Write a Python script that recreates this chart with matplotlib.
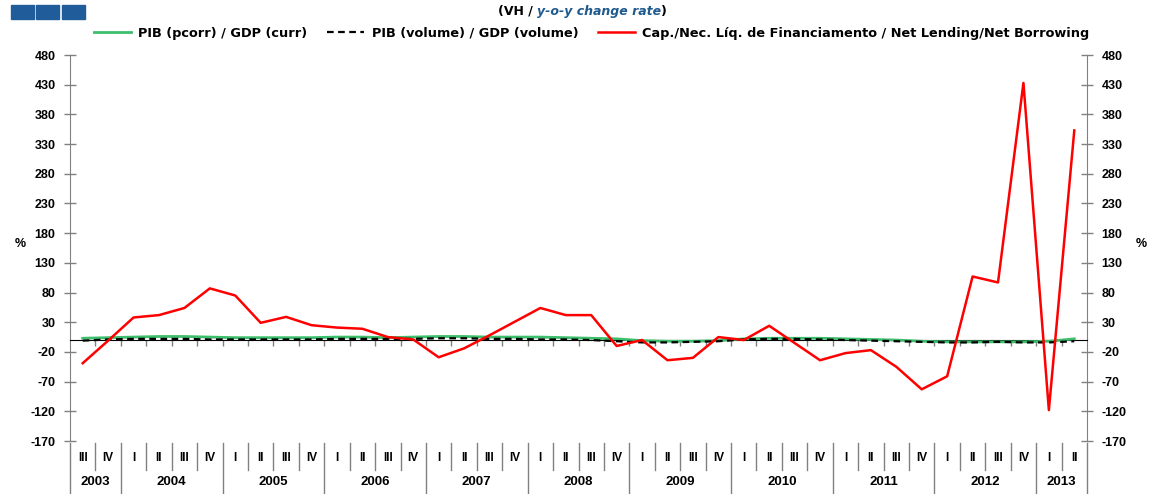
import numpy as np
import matplotlib
matplotlib.use('Agg')
import matplotlib.pyplot as plt
from matplotlib.lines import Line2D
from matplotlib.patches import Rectangle
import matplotlib.transforms as mtransforms

plt.rcParams['font.family'] = ['Liberation Sans', 'DejaVu Sans']
plt.rcParams['font.weight'] = 'bold'

# data
years = ['2003', '2004', '2005', '2006', '2007', '2008', '2009', '2010', '2011', '2012', '2013']
quarters_per_year = [2, 4, 4, 4, 4, 4, 4, 4, 4, 4, 2]
quarter_labels = ['III', 'IV'] + ['I', 'II', 'III', 'IV'] * 9 + ['I', 'II']

gdp_curr = [3, 4, 5, 6, 6, 5, 4, 4, 4, 4, 5, 5, 4, 5, 6, 6, 5, 5, 5, 4, 3, 2,
            -1, -2, -2, -1, 2, 3, 3, 3, 2, 1, 0, -2, -3, -3, -3, -3, -2, 2]
gdp_vol = [-1, 1, 2, 2, 2, 1, 1, 1, 1, 1, 2, 2, 2, 2, 3, 3, 2, 2, 1, 1, 0, -2,
           -4, -4, -3, -2, 1, 2, 2, 1, 0, -1, -2, -3, -4, -4, -3, -4, -4, -2]
net_lending = [-39, -1, 38, 42, 54, 87, 75, 29, 39, 25, 21, 19, 5, 1,
               -29, -14, 8, 31, 54, 42, 42, -10, 0, -34, -30, 5, 0, 24,
               -5, -34, -22, -17, -45, -83, -61, 107, 97, 433, -118, 353]

x = np.arange(len(net_lending))

fig = plt.figure(figsize=(11.51, 4.94), dpi=100)
ax = fig.add_axes([70 / 1151, 1 - 441 / 494, 1017 / 1151, 386 / 494])

green = '#3DBE6C'
ax.plot(x, gdp_curr, color=green, lw=2.0, zorder=3)
ax.plot(x, gdp_vol, color='black', lw=1.6, ls=(0, (3, 2)), zorder=4)
ax.plot(x, net_lending, color='#FF0000', lw=1.8, zorder=5)

ax.set_xlim(-0.5, len(x) - 0.5)
ax.set_ylim(-170, 480)
yt = np.arange(-170, 481, 50)
ax.set_yticks(yt)
ax.set_yticklabels([str(v) for v in yt], fontsize=9, fontweight='bold')
ax.tick_params(axis='y', direction='inout', length=9, width=1, color='#808080',
               right=True, labelright=True, pad=6)

ax.spines['top'].set_visible(False)
for s in ['left', 'right']:
    ax.spines[s].set_color('#808080')
ax.spines['bottom'].set_position(('data', 0))
ax.spines['bottom'].set_color('black')
ax.set_xticks(x[:-1] + 0.5)
ax.set_xticklabels([])
ax.tick_params(axis='x', direction='out', length=4, width=1, color='#808080')

# category table under the plot
tr = mtransforms.blended_transform_factory(ax.transData, ax.transAxes)
yq, yy = -0.044, -0.106
for i, q in enumerate(quarter_labels):
    ax.text(i, yq, q, transform=tr, ha='center', va='center', fontsize=8.5,
            fontweight='bold', clip_on=False)
start = 0
bounds = [-0.5]
for yr, n in zip(years, quarters_per_year):
    ax.text(start + (n - 1) / 2, yy, yr, transform=tr, ha='center', va='center',
            fontsize=9.5, fontweight='bold', clip_on=False)
    for k in range(1, n):
        ax.add_line(Line2D([start + k - 0.5] * 2, [-0.006, -0.075], transform=tr,
                           color='#808080', lw=1, clip_on=False))
    start += n
    bounds.append(start - 0.5)
for b in bounds:
    ax.add_line(Line2D([b, b], [-0.006, -0.137], transform=tr,
                       color='#808080', lw=1, clip_on=False))

fig.text(20 / 1151, 1 - 244 / 494, '%', ha='center', va='center', fontsize=9, fontweight='bold')
fig.text(1141 / 1151, 1 - 244 / 494, '%', ha='center', va='center', fontsize=9, fontweight='bold')

# legend
handles = [Line2D([], [], color=green, lw=2.0),
           Line2D([], [], color='black', lw=1.6, ls=(0, (3, 2))),
           Line2D([], [], color='#FF0000', lw=1.8)]
labels = ['PIB (pcorr) / GDP (curr)', 'PIB (volume) / GDP (volume)',
          'Cap./Nec. Líq. de Financiamento / Net Lending/Net Borrowing']
leg = fig.legend(handles, labels, loc='center', bbox_to_anchor=(0.514, 1 - 33 / 494),
                 ncol=3, frameon=False, handlelength=2.9, handletextpad=0.55,
                 columnspacing=1.5,
                 prop={'family': 'DejaVu Sans', 'size': 9.3, 'weight': 'bold'})

# title
ty = 1 - 11 / 494
t1 = fig.text(498 / 1151, ty, '(VH / ', ha='left', va='center',
              fontsize=9, fontweight='bold', family='DejaVu Sans')
t2 = fig.text(0, ty, 'y-o-y change rate', va='center', fontsize=9, fontweight='bold',
              style='italic', color='#1F5A8F', family='DejaVu Sans')
t3 = fig.text(0, ty, ')', va='center', fontsize=9, fontweight='bold', family='DejaVu Sans')
fig.canvas.draw()
r = fig.canvas.get_renderer()
inv = fig.transFigure.inverted()
e1 = t1.get_window_extent(r)
t2.set_position([inv.transform((e1.x1, 0))[0], ty])
e2 = t2.get_window_extent(r)
t3.set_position([inv.transform((e2.x1, 0))[0], ty])

# blue boxes top-left
for bx in [11, 36, 62]:
    fig.patches.append(Rectangle((bx / 1151, 1 - 19 / 494), 23 / 1151, 14 / 494,
                                 transform=fig.transFigure, color='#1F5C99'))

fig.savefig('out.png', dpi=100)
